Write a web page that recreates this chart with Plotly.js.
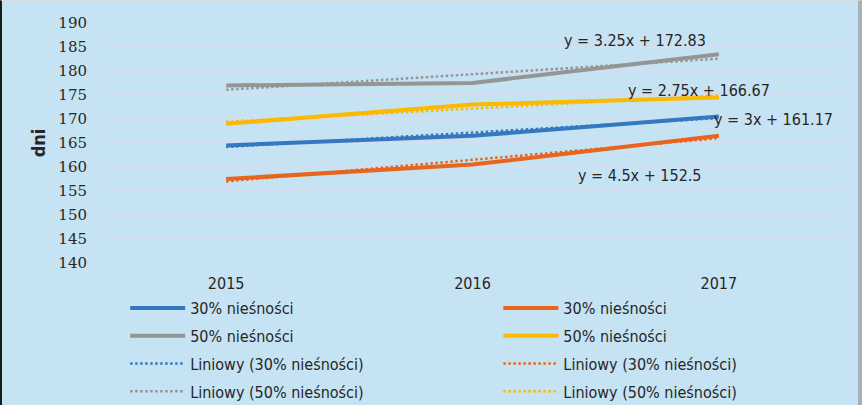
<!DOCTYPE html>
<html><head><meta charset="utf-8">
<script src="https://cdn.plot.ly/plotly-3.0.1.min.js"></script>
<style>
html,body{margin:0;padding:0;background:#c6e3f4;}
#wrap{width:862px;height:405px;box-sizing:border-box;border-left:2px solid #1a1a1a;border-right:4px solid #a7b0b8;border-top:1px solid #d8dde2;overflow:hidden;}
#chart{width:856px;height:404px;}
</style></head>
<body><div id="wrap"><div id="chart"></div></div>
<script>
const categories = ['2015', '2016', '2017'];
const blue30 = [164.5, 166.5, 170.5];
const orange30 = [157.5, 160.5, 166.5];
const gray50 = [177, 177.5, 183.5];
const yellow50 = [169, 173, 174.5];
const seriesNames = ['30% nieśności', '30% nieśności', '50% nieśności', '50% nieśności'];
const trendNames = ['Liniowy (30% nieśności)', 'Liniowy (30% nieśności)', 'Liniowy (50% nieśności)', 'Liniowy (50% nieśności)'];
const trendSlopes = [3, 4.5, 3.25, 2.75];
const trendIntercepts = [161.17, 152.5, 172.83, 166.67];
const trendLabels = ['y = 3x + 161.17', 'y = 4.5x + 152.5', 'y = 3.25x + 172.83', 'y = 2.75x + 166.67'];
const yTicks = [140, 145, 150, 155, 160, 165, 170, 175, 180, 185, 190];

const colors = ['#3479bf', '#e8651e', '#959595', '#fbb900'];
const series = [blue30, orange30, gray50, yellow50];
const legendOf = ['legend', 'legend2', 'legend', 'legend2'];
const rankOf = [1, 1, 2, 2];
const labelPos = [[2.22, 169.8], [1.68, 158.2], [1.66, 186.4], [1.92, 175.9]];

const FONT = 'DejaVu Sans Condensed, DejaVu Sans, sans-serif';
const traces = [];
series.forEach((s, i) => {
  traces.push({
    x: categories, y: s, type: 'scatter', mode: 'lines', name: seriesNames[i],
    line: {color: colors[i], width: 4}, legend: legendOf[i], legendrank: rankOf[i],
    legendgroup: 'g' + i
  });
});
series.forEach((s, i) => {
  const tr = categories.map((c, k) => trendSlopes[i] * (k + 1) + trendIntercepts[i]);
  traces.push({
    x: categories, y: tr, type: 'scatter', mode: 'lines', name: trendNames[i],
    line: {color: colors[i], width: 2.5, dash: '2.5px,2.5px'}, legend: legendOf[i],
    legendrank: rankOf[i] + 2, legendgroup: 't' + i
  });
});

const annotations = trendLabels.map((t, i) => ({
  x: labelPos[i][0], y: labelPos[i][1], xref: 'x', yref: 'y', text: t, showarrow: false,
  font: {family: FONT, size: 16, color: '#262626'}
}));

const legendBase = {
  orientation: 'v', bgcolor: 'rgba(0,0,0,0)', borderwidth: 0,
  font: {family: FONT, size: 16, color: '#262626'},
  itemwidth: 55, tracegroupgap: 4, yanchor: 'top', xanchor: 'left', traceorder: 'grouped',
  yref: 'container', xref: 'paper',
  itemclick: false, itemdoubleclick: false
};

const layout = {
  width: 856, height: 404,
  margin: {l: 101, r: 16, t: 22, b: 142},
  paper_bgcolor: '#c6e3f4', plot_bgcolor: '#c6e3f4',
  showlegend: true,
  xaxis: {
    type: 'category', range: [-0.5, 2.5], showgrid: false, zeroline: false, showline: false,
    ticks: 'outside', ticklen: 6, tickcolor: 'rgba(0,0,0,0)',
    tickfont: {family: FONT, size: 16, color: '#262626'}
  },
  yaxis: {
    range: [140, 190], tickvals: yTicks, ticktext: yTicks.map(String),
    showgrid: true, gridcolor: '#d7ddf1', gridwidth: 1.5, zeroline: false, showline: false,
    ticks: 'outside', ticklen: 12, tickcolor: 'rgba(0,0,0,0)',
    tickfont: {family: 'DejaVu Serif, serif', size: 15, color: '#262626'},
    title: {text: '<b>dni</b>', font: {family: FONT, size: 18, color: '#262626'}, standoff: 8}
  },
  legend: Object.assign({}, legendBase, {x: 0.03, y: 0.282}),
  legend2: Object.assign({}, legendBase, {x: 0.535, y: 0.282}),
  annotations: annotations
};

Plotly.newPlot('chart', traces, layout, {displayModeBar: false, staticPlot: true});
</script></body></html>
